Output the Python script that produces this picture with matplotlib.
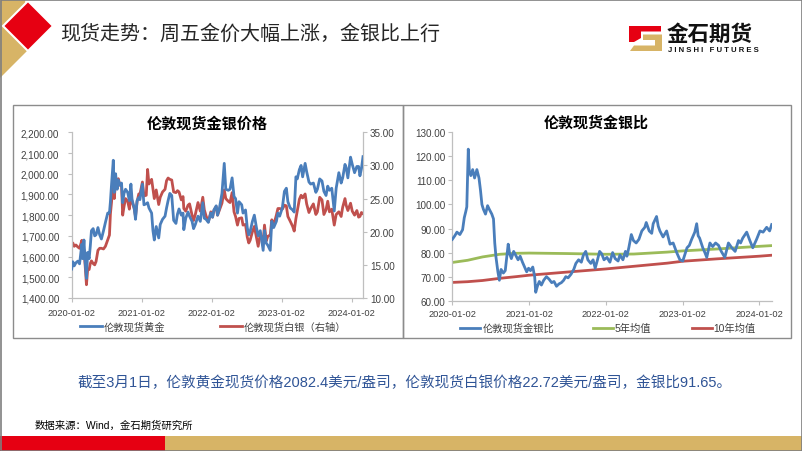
import matplotlib
matplotlib.use('Agg')
import matplotlib.pyplot as plt
from matplotlib.patches import Polygon, Rectangle
from matplotlib.ticker import FuncFormatter, MultipleLocator
import pandas as pd

plt.rcParams['font.family'] = ['Liberation Sans', 'Noto Sans CJK SC', 'DejaVu Sans']

# ---------------- data ----------------
gs_dates = [
    '2020-01-02', '2020-01-08', '2020-01-15', '2020-01-24', '2020-02-03', '2020-02-12', '2020-02-24', '2020-02-28',
    '2020-03-06', '2020-03-12', '2020-03-19', '2020-03-25', '2020-04-02', '2020-04-08', '2020-04-14', '2020-04-23',
    '2020-05-01', '2020-05-08', '2020-05-18', '2020-05-27', '2020-06-05', '2020-06-16', '2020-06-26',
    '2020-07-08', '2020-07-17', '2020-07-22', '2020-07-28', '2020-08-06', '2020-08-11', '2020-08-18', '2020-08-26',
    '2020-09-01', '2020-09-10', '2020-09-18', '2020-09-24', '2020-10-01', '2020-10-09', '2020-10-20', '2020-10-29',
    '2020-11-06', '2020-11-12', '2020-11-23', '2020-11-30', '2020-12-08', '2020-12-17', '2020-12-23',
    '2021-01-05', '2021-01-13', '2021-01-25', '2021-02-01', '2021-02-08', '2021-02-22',
    '2021-03-01', '2021-03-08', '2021-03-18', '2021-03-31', '2021-04-08', '2021-04-20',
    '2021-05-03', '2021-05-11', '2021-05-19', '2021-05-28', '2021-06-07', '2021-06-17', '2021-06-29',
    '2021-07-07', '2021-07-15', '2021-07-27', '2021-08-05', '2021-08-09', '2021-08-19', '2021-08-31',
    '2021-09-08', '2021-09-21', '2021-09-29', '2021-10-08', '2021-10-22',
    '2021-11-03', '2021-11-16', '2021-11-24', '2021-12-03', '2021-12-15', '2021-12-28',
    '2022-01-06', '2022-01-13', '2022-01-25', '2022-02-01', '2022-02-10', '2022-02-24',
    '2022-03-08', '2022-03-16', '2022-03-29', '2022-04-07', '2022-04-18', '2022-04-28',
    '2022-05-06', '2022-05-16', '2022-05-24', '2022-06-07', '2022-06-14', '2022-06-27',
    '2022-07-06', '2022-07-14', '2022-07-21', '2022-08-02', '2022-08-12', '2022-08-23',
    '2022-09-01', '2022-09-12', '2022-09-27', '2022-10-04', '2022-10-13', '2022-10-21',
    '2022-11-03', '2022-11-11', '2022-11-21', '2022-12-05', '2022-12-13', '2022-12-22',
    '2023-01-05', '2023-01-16', '2023-01-26', '2023-02-03', '2023-02-15', '2023-02-28',
    '2023-03-08', '2023-03-17', '2023-03-24', '2023-04-04', '2023-04-13', '2023-04-21',
    '2023-05-04', '2023-05-12', '2023-05-24', '2023-06-02', '2023-06-16', '2023-06-29',
    '2023-07-07', '2023-07-19', '2023-07-31', '2023-08-10', '2023-08-21', '2023-08-30',
    '2023-09-08', '2023-09-20', '2023-10-03', '2023-10-13', '2023-10-27',
    '2023-11-08', '2023-11-16', '2023-11-28', '2023-12-04', '2023-12-13', '2023-12-27',
    '2024-01-05', '2024-01-17', '2024-01-29', '2024-02-07', '2024-02-14', '2024-02-22', '2024-03-01',
]
gold = [
    1540, 1575, 1555, 1570, 1578, 1565, 1660, 1590,
    1680, 1575, 1495, 1620, 1590, 1650, 1725, 1735,
    1700, 1705, 1740, 1705, 1685, 1725, 1765,
    1810, 1810, 1865, 1950, 2065, 1910, 2000, 1925,
    1970, 1945, 1955, 1860, 1905, 1925, 1910, 1870,
    1950, 1875, 1835, 1780, 1870, 1885, 1875,
    1950, 1850, 1855, 1860, 1835, 1810,
    1725, 1680, 1745, 1690, 1755, 1780,
    1795, 1835, 1870, 1905, 1895, 1775, 1760,
    1805, 1830, 1800, 1810, 1730, 1785, 1815,
    1795, 1770, 1735, 1755, 1795,
    1770, 1860, 1785, 1780, 1765, 1810,
    1790, 1825, 1845, 1800, 1830, 1905,
    2050, 1925, 1920, 1925, 1980, 1890,
    1880, 1810, 1865, 1850, 1810, 1825,
    1740, 1705, 1720, 1770, 1800, 1740,
    1700, 1725, 1630, 1725, 1665, 1655,
    1630, 1770, 1740, 1770, 1810, 1795,
    1835, 1915, 1930, 1865, 1835, 1825,
    1815, 1985, 1975, 2020, 2040, 1985,
    2050, 2010, 1960, 1950, 1955, 1910,
    1925, 1975, 1965, 1915, 1895, 1940,
    1920, 1930, 1820, 1930, 2005,
    1955, 1980, 2045, 2030, 1980, 2080,
    2045, 2005, 2035, 2035, 1990, 2025, 2082.4,
]
silver = [
    18.0, 18.3, 17.8, 18.0, 17.7, 17.5, 18.7, 16.6,
    17.3, 15.0, 12.0, 14.2, 14.3, 15.2, 15.6, 15.2,
    15.0, 15.5, 17.2, 17.5, 17.5, 17.4, 17.8,
    18.8, 19.5, 22.7, 24.5, 28.8, 25.0, 27.5, 26.5,
    28.0, 27.0, 27.0, 22.5, 23.8, 25.0, 24.6, 23.4,
    25.7, 24.5, 23.5, 22.3, 24.5, 25.7, 25.6,
    27.5, 25.4, 25.5, 29.4, 27.2, 27.9,
    26.5, 25.0, 26.3, 24.1, 25.2, 26.0,
    26.4, 27.7, 28.1, 27.9, 27.8, 26.0, 25.9,
    26.2, 26.0, 24.8, 25.3, 23.5, 23.1, 24.0,
    24.2, 22.5, 21.7, 22.6, 24.4,
    23.1, 25.2, 23.3, 22.4, 21.5, 23.0,
    22.2, 23.2, 23.8, 22.5, 23.2, 24.3,
    26.3, 25.0, 24.6, 24.4, 25.9, 23.0,
    22.3, 21.0, 22.0, 22.1, 21.0, 21.1,
    19.2, 18.3, 18.7, 20.0, 20.8, 19.1,
    17.8, 19.6, 18.5, 21.0, 18.6, 19.3,
    19.5, 21.8, 21.0, 22.5, 23.5, 23.5,
    23.4, 24.0, 23.9, 22.3, 21.6, 20.8,
    20.1, 22.0, 23.1, 24.9, 25.5, 25.1,
    25.7, 24.2, 22.9, 23.5, 24.2, 22.6,
    23.0, 25.2, 24.8, 22.6, 23.3, 24.6,
    23.0, 23.4, 21.0, 22.6, 23.0,
    22.3, 23.7, 25.0, 24.0, 23.2, 24.3,
    23.1, 22.5, 23.2, 22.2, 22.3, 22.9, 22.72,
]

ratio_dates = [
    '2020-01-02', '2020-01-14', '2020-01-24', '2020-02-07', '2020-02-20', '2020-02-28', '2020-03-06', '2020-03-11',
    '2020-03-18', '2020-03-23', '2020-03-30', '2020-04-08', '2020-04-17', '2020-04-28', '2020-05-08', '2020-05-15',
    '2020-05-22', '2020-05-29', '2020-06-08', '2020-06-18', '2020-06-26', '2020-07-08', '2020-07-16', '2020-07-22',
    '2020-07-28', '2020-08-06', '2020-08-13', '2020-08-21', '2020-09-01', '2020-09-10', '2020-09-24', '2020-10-01',
    '2020-10-09', '2020-10-20', '2020-10-29', '2020-11-10', '2020-11-20', '2020-12-01', '2020-12-11', '2020-12-21',
    '2020-12-30',
    '2021-01-08', '2021-01-19', '2021-01-28', '2021-02-02', '2021-02-10', '2021-02-19', '2021-03-01', '2021-03-12',
    '2021-03-25', '2021-04-06', '2021-04-19', '2021-04-30', '2021-05-12', '2021-05-24', '2021-06-04', '2021-06-15',
    '2021-06-25', '2021-07-06', '2021-07-20', '2021-08-02', '2021-08-12', '2021-08-25', '2021-09-07', '2021-09-17',
    '2021-09-28', '2021-10-08', '2021-10-22', '2021-11-02', '2021-11-12', '2021-11-23', '2021-12-03', '2021-12-13',
    '2021-12-24',
    '2022-01-07', '2022-01-21', '2022-02-03', '2022-02-15', '2022-03-01', '2022-03-10', '2022-03-24', '2022-04-05',
    '2022-04-12', '2022-04-21', '2022-05-03', '2022-05-13', '2022-05-26', '2022-06-08', '2022-06-22', '2022-07-06',
    '2022-07-13', '2022-07-27', '2022-08-08', '2022-08-15', '2022-08-31', '2022-09-08', '2022-09-16', '2022-10-01',
    '2022-10-18', '2022-11-03', '2022-11-18', '2022-12-05', '2022-12-20',
    '2023-01-03', '2023-01-12', '2023-01-23', '2023-02-03', '2023-02-14', '2023-03-01', '2023-03-10', '2023-03-17',
    '2023-03-24', '2023-04-08', '2023-04-18', '2023-04-27', '2023-05-12', '2023-05-25', '2023-06-08', '2023-06-22',
    '2023-07-05', '2023-07-22', '2023-08-08', '2023-08-24', '2023-09-09', '2023-09-25', '2023-10-05', '2023-10-15',
    '2023-11-03', '2023-11-18', '2023-12-02', '2023-12-20',
    '2024-01-05', '2024-01-20', '2024-02-06', '2024-02-20', '2024-03-01',
]
ratio = [
    85.5, 87.0, 88.5, 87.5, 89.5, 94.5, 97.0, 99.0,
    123.0, 114.0, 112.0, 114.5, 111.0, 114.5, 111.0, 106.0,
    100.0, 98.0, 96.0, 99.5, 98.0, 96.0, 94.0, 84.0,
    78.0, 72.0, 68.5, 73.0, 71.5, 72.5, 83.5, 79.5,
    77.5, 80.5, 79.0, 77.0, 78.5, 76.0, 74.0, 72.0,
    73.5,
    72.5, 74.0, 70.0, 63.5, 66.0, 68.0, 66.5, 68.5,
    70.0, 69.0, 67.5, 68.0, 66.0, 67.0, 67.5, 68.5,
    70.0, 69.5, 71.0, 73.0, 75.5, 77.0, 76.0, 79.0,
    80.5, 77.0, 75.5, 77.0, 73.5, 77.0, 80.5, 79.5,
    77.0,
    78.0, 76.0, 80.0, 77.5, 76.5, 79.0, 77.0, 80.5,
    78.5, 82.0, 87.5, 85.0, 84.0, 85.5, 89.0, 90.5,
    92.5, 89.0, 88.0, 92.0, 95.0, 91.0, 89.0, 86.5,
    89.0, 83.5, 84.0, 80.0, 77.0,
    76.5, 79.0, 82.0, 83.0, 85.5, 88.5, 92.0, 87.0,
    86.0, 82.0, 80.0, 78.0, 84.0, 82.5, 84.0, 83.0,
    80.5, 78.0, 84.0, 82.0, 80.5, 85.0, 84.0, 86.0,
    88.5, 85.0, 82.0, 85.5,
    89.0, 88.5, 90.5, 89.0, 91.65,
]

ma_dates = ['2020-01-02', '2020-03-15', '2020-05-25', '2020-08-15', '2020-11-01', '2021-01-02', '2021-07-01',
            '2022-01-02', '2022-05-15', '2022-10-20', '2023-01-02', '2023-06-15', '2024-01-02', '2024-03-01']
ma5 = [75.9, 76.8, 78.2, 79.3, 79.7, 79.8, 79.6, 79.3, 79.4, 80.2, 80.7, 81.5, 82.6, 82.9]
ma10 = [67.6, 67.9, 68.4, 69.3, 70.0, 70.6, 71.9, 73.2, 74.3, 75.6, 76.4, 77.4, 78.5, 78.9]

xtick_labels = ['2020-01-02', '2021-01-02', '2022-01-02', '2023-01-02', '2024-01-02']

title_text = '现货走势：周五金价大幅上涨，金银比上行'
chart1_title = '伦敦现货金银价格'
chart2_title = '伦敦现货金银比'
legend1 = ['伦敦现货黄金', '伦敦现货白银（右轴）']
legend2 = ['伦敦现货金银比', '5年均值', '10年均值']
summary = '截至3月1日，伦敦黄金现货价格2082.4美元/盎司，伦敦现货白银价格22.72美元/盎司，金银比91.65。'
source = '数据来源：Wind，金石期货研究所'

# ---------------- style ----------------
RED = '#E60012'
TAN = '#D7B466'
BLUE = '#4A7EBB'
DRED = '#C0504D'
GREEN = '#9BBB59'
AX = '#BFBFBF'
TXT = '#404040'
LW = 2.0

W, H = 802, 452
fig = plt.figure(figsize=(W / 100, H / 100), dpi=100)
fig.patch.set_facecolor('white')

bg = fig.add_axes([0, 0, 1, 1], zorder=0)
bg.set_xlim(0, W)
bg.set_ylim(H, 0)
bg.axis('off')


def frac(x0, y0, x1, y1):
    return [x0 / W, 1 - y1 / H, (x1 - x0) / W, (y1 - y0) / H]


# decoration top-left
bg.add_patch(Polygon([(0, 0), (25, 0), (27, 27), (27, 52), (0, 79)], closed=True, fc=TAN, ec='none'))
bg.add_patch(Polygon([(28, 2), (53, 27), (28, 52), (3, 27)], closed=True, fc=RED, ec='white', lw=1.5))
bg.text(60, 34, title_text, fontsize=14.4, color='#262626', ha='left', va='center')

# logo
bg.add_patch(Polygon([(629, 27), (661, 27), (661, 32.5), (641, 32.5), (641, 39), (634, 43), (629, 43)],
                     closed=True, fc=RED, ec='none'))
bg.add_patch(Polygon([(643, 35.5), (662, 35.5), (662, 52), (630, 52), (634, 46.5), (655, 46.5), (655, 41), (643, 41)],
                     closed=True, fc=TAN, ec='none'))
bg.text(667, 35.5, '金石期货', fontsize=15.5, fontweight='bold', color='#111111', ha='left', va='center')
bg.text(668, 50.5, 'J I N S H I   F U T U R E S', fontsize=5.6, fontweight='bold', color='#111111',
        ha='left', va='center')

# chart frames
bg.add_patch(Rectangle((12.5, 105.5), 390, 233, fill=False, ec='#8C8C8C', lw=1))
bg.add_patch(Rectangle((402.5, 105.5), 388, 233, fill=False, ec='#8C8C8C', lw=1))
bg.text(207.5, 124, chart1_title, fontsize=10.9, fontweight='bold', color='#000000', ha='center', va='center')
bg.text(596, 123.5, chart2_title, fontsize=10.8, fontweight='bold', color='#000000', ha='center', va='center')

# bottom texts & bar
bg.text(405, 383, summary, fontsize=10.5, color='#2F5496', ha='center', va='center')
bg.text(35, 426, source, fontsize=7.5, color='#000000', ha='left', va='center')
bg.add_patch(Rectangle((0, 437), 165, 15, fc=RED, ec='none'))
bg.add_patch(Rectangle((165, 437), W - 165, 15, fc=TAN, ec='none'))
bg.add_patch(Rectangle((0.5, 0.5), W - 1, H - 1, fill=False, ec='#7F7F7F', lw=1.2))

gs_x = pd.to_datetime(gs_dates)
r_x = pd.to_datetime(ratio_dates)
ma_x = pd.to_datetime(ma_dates)
xt = pd.to_datetime(xtick_labels)
xmin, xmax = pd.Timestamp('2020-01-02'), pd.Timestamp('2024-03-01')


def style_axis(ax, xpad):
    for s in ['top', 'right']:
        ax.spines[s].set_visible(False)
    for s in ['left', 'bottom']:
        ax.spines[s].set_color(AX)
        ax.spines[s].set_linewidth(0.9)
    ax.set_xlim(xmin, xmax)
    ax.set_xticks(xt)
    ax.set_xticklabels(xtick_labels)
    ax.tick_params(axis='x', direction='out', length=3, width=0.8, color=AX, labelsize=6.7,
                   labelcolor=TXT, pad=xpad)
    ax.patch.set_alpha(0)


# ---------------- chart 1 ----------------
ax1 = fig.add_axes(frac(71.7, 133.3, 363, 299), zorder=2)
ax1.plot(gs_x, gold, color=BLUE, lw=LW, zorder=3)
ax1.set_ylim(1400, 2200)
ax1.yaxis.set_major_locator(MultipleLocator(100))
ax1.yaxis.set_major_formatter(FuncFormatter(lambda v, p: f'{v:,.2f}'))
style_axis(ax1, 4)
ax1.tick_params(axis='y', direction='out', length=3, width=0.8, color=AX, labelsize=7.1,
                labelcolor=TXT, pad=6)

ax1r = ax1.twinx()
ax1r.plot(gs_x, silver, color=DRED, lw=LW, zorder=2)
ax1r.set_ylim(10, 35)
ax1r.yaxis.set_major_locator(MultipleLocator(5))
ax1r.yaxis.set_major_formatter(FuncFormatter(lambda v, p: f'{v:.2f}'))
for s in ['top', 'left', 'bottom']:
    ax1r.spines[s].set_visible(False)
ax1r.spines['right'].set_color(AX)
ax1r.spines['right'].set_linewidth(0.9)
ax1r.tick_params(axis='y', direction='out', length=3, width=0.8, color=AX, labelsize=7.1,
                 labelcolor=TXT, pad=2)
ax1r.set_xlim(xmin, xmax)
ax1.set_zorder(3)
ax1r.set_zorder(2)
ax1r.patch.set_alpha(0)

# legend 1
bg.plot([80, 101.7], [327.3, 327.3], color=BLUE, lw=LW)
bg.text(104, 327.3, legend1[0], fontsize=7.4, color=TXT, ha='left', va='center')
bg.plot([220, 241.7], [327.3, 327.3], color=DRED, lw=LW)
bg.text(244, 327.3, legend1[1], fontsize=7.4, color=TXT, ha='left', va='center')

# ---------------- chart 2 ----------------
ax2 = fig.add_axes(frac(452.3, 133.3, 771.7, 301.7), zorder=2)
ax2.plot(ma_x, ma10, color=DRED, lw=LW, zorder=2)
ax2.plot(ma_x, ma5, color=GREEN, lw=LW, zorder=2)
ax2.plot(r_x, ratio, color=BLUE, lw=LW, zorder=3)
ax2.set_ylim(60, 130)
ax2.yaxis.set_major_locator(MultipleLocator(10))
ax2.yaxis.set_major_formatter(FuncFormatter(lambda v, p: f'{v:.2f}'))
style_axis(ax2, 3.3)
ax2.tick_params(axis='y', direction='out', length=3, width=0.8, color=AX, labelsize=7.1,
                labelcolor=TXT, pad=2)

# legend 2
bg.plot([460, 480], [329, 329], color=BLUE, lw=LW)
bg.text(483, 329, legend2[0], fontsize=7.4, color=TXT, ha='left', va='center')
bg.plot([593, 613], [329, 329], color=GREEN, lw=LW)
bg.text(615, 329, legend2[1], fontsize=7.4, color=TXT, ha='left', va='center')
bg.plot([691.7, 711.7], [329, 329], color=DRED, lw=LW)
bg.text(713, 329, legend2[2], fontsize=7.4, color=TXT, ha='left', va='center')

fig.savefig('out.png', dpi=100)
